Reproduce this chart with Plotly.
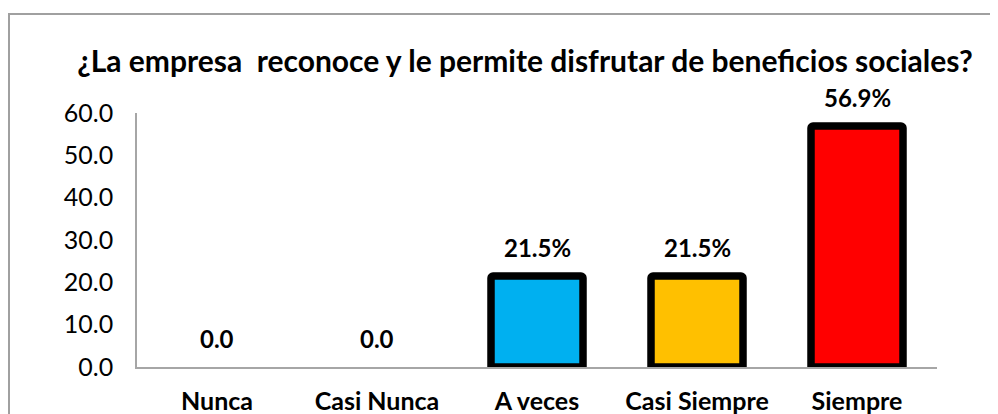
import plotly.graph_objects as go

categories = ["Nunca", "Casi Nunca", "A veces", "Casi Siempre", "Siempre"]
values = [0.0, 0.0, 21.5, 21.5, 56.9]
labels = ["0.0", "0.0", "21.5%", "21.5%", "56.9%"]
colors = ["#00B0F0", "#00B0F0", "#00B0F0", "#FFC000", "#FF0000"]
tick_vals = [0, 10, 20, 30, 40, 50, 60]
tick_text = ["0.0", "10.0", "20.0", "30.0", "40.0", "50.0", "60.0"]
title = "¿La empresa  reconoce y le permite disfrutar de beneficios sociales?"

FONT = "Lato"
# page body has an 8px margin; figure sized so it fills the rest of the window
W, H = 990, 406
L, R, T, B = 129, 61, 105, 47
PW, PH = W - L - R, H - T - B

fig = go.Figure()
fig.add_trace(go.Bar(
    x=categories, y=values, width=0.575,
    marker=dict(color=colors,
                line=dict(color="black", width=[0 if v == 0 else 7.5 for v in values]),
                cornerradius=2),
    hoverinfo="skip",
))

for c, v, t in zip(categories, values, labels):
    fig.add_annotation(x=c, y=v, text="<b>%s</b>" % t, showarrow=False,
                       yanchor="bottom", yshift=12,
                       font=dict(family=FONT, size=24, color="black"))

fig.add_shape(type="rect", xref="paper", yref="paper",
              x0=(1 - L) / PW, x1=1.3, y0=-0.6, y1=(PH + T - 6) / PH,
              line=dict(color="#a0a0a0", width=2), fillcolor="rgba(0,0,0,0)", layer="below")

fig.update_layout(
    width=W, height=H,
    margin=dict(l=L, r=R, t=T, b=B, autoexpand=False),
    paper_bgcolor="white", plot_bgcolor="white",
    showlegend=False,
    title=dict(text="<b>%s</b>" % title, x=517 / W, xanchor="center",
               y=1 - 53 / H, yanchor="middle",
               font=dict(family=FONT, size=30, color="black")),
)
fig.update_xaxes(showline=True, linecolor="#a6a6a6", linewidth=1.5, ticks="",
                 showgrid=False, ticklabelstandoff=11, automargin=False,
                 tickfont=dict(family=FONT, size=25, color="black"),
                 tickvals=categories, ticktext=["<b>%s</b>" % c for c in categories])
fig.update_yaxes(range=[0, 60], showline=True, linecolor="#a6a6a6", linewidth=1.5,
                 ticks="", showgrid=False, zeroline=False, automargin=False,
                 tickvals=tick_vals, ticktext=tick_text, ticklabelstandoff=17,
                 tickfont=dict(family=FONT, size=25, color="black"))

fig.write_html("out.html")
